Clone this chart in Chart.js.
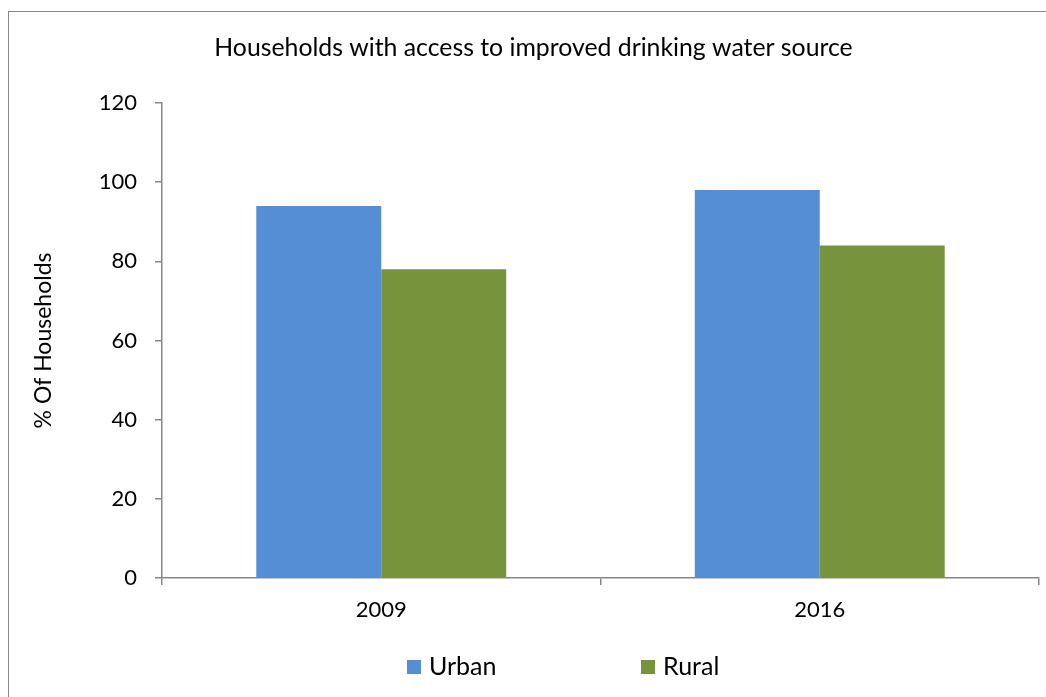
<!DOCTYPE html>
<html>
<head>
<meta charset="utf-8">
<script src="https://cdn.jsdelivr.net/npm/chart.js@4"></script>
<style>
html, body { margin:0; padding:0; background:#fff; overflow:hidden; }
#wrap { position:relative; width:1046px; height:697px; }
#frame { position:absolute; left:8px; top:11px; width:1100px; height:800px; border:1px solid #878787; }
#canvas { position:absolute; left:0; top:0; }
</style>
</head>
<body>
<div id="wrap">
  <div id="frame"></div>
  <canvas id="canvas" width="1046" height="697"></canvas>
</div>
<script>
// data
const years = ["2009", "2016"];
const urban = [94, 98];
const rural = [78, 84];
const seriesNames = ["Urban", "Rural"];
const seriesColors = ["#558ED5", "#77933C"];
const yMin = 0, yMax = 120, yStep = 20;

const FONT = "Lato, 'Open Sans', sans-serif";
const AXIS = "#878787";

// legend drawn by hand at the bottom, Excel style (wide gap between items)
const bottomLegend = {
  id: "bottomLegend",
  afterDraw(chart) {
    const ctx = chart.ctx;
    ctx.save();
    ctx.font = "25px " + FONT;
    ctx.textBaseline = "middle";
    let x = 407;
    const y = 667;
    chart.data.datasets.forEach((ds, i) => {
      ctx.fillStyle = ds.backgroundColor;
      ctx.fillRect(x, y - 7, 14, 14);
      ctx.fillStyle = "#000";
      ctx.fillText(ds.label, x + 22, y);
      x = 641;
    });
    ctx.restore();
  }
};

let ctx = document.getElementById("canvas").getContext("2d");
let grafica = new Chart(ctx, {
  type: "bar",
  data: {
    labels: years,
    datasets: [
      { label: seriesNames[0], data: urban, backgroundColor: seriesColors[0] },
      { label: seriesNames[1], data: rural, backgroundColor: seriesColors[1] }
    ]
  },
  options: {
    responsive: false,
    animation: false,
    layout: { padding: { left: 28, right: 7, top: 0, bottom: 59 } },
    datasets: {
      bar: { categoryPercentage: 0.57, barPercentage: 1.0 }
    },
    plugins: {
      legend: { display: false },
      tooltip: { enabled: false },
      title: {
        display: true,
        text: "Households with access to improved drinking water source",
        color: "#000",
        font: { family: FONT, size: 24.8, weight: "normal" },
        padding: { top: 33, bottom: 40.2 }
      }
    },
    scales: {
      x: {
        afterFit: (s) => { s.height = 60; },
        grid: { offset: true, drawOnChartArea: false, drawTicks: true, tickLength: 7, color: AXIS, lineWidth: 1.5 },
        border: { color: AXIS, width: 1.5 },
        ticks: { color: "#000", font: { family: FONT, size: 22 }, padding: 12 }
      },
      y: {
        min: yMin,
        max: yMax,
        afterFit: (s) => { s.width = 134; },
        grid: { drawOnChartArea: false, drawTicks: true, tickLength: 7, color: AXIS, lineWidth: 1.5 },
        border: { color: AXIS, width: 1.5 },
        ticks: { stepSize: yStep, color: "#000", font: { family: FONT, size: 22 }, padding: 18 },
        title: {
          display: true,
          text: "% Of Households",
          color: "#000",
          font: { family: FONT, size: 23 },
          padding: { top: 2, bottom: 0 }
        }
      }
    }
  },
  plugins: [bottomLegend]
});
</script>
</body>
</html>
